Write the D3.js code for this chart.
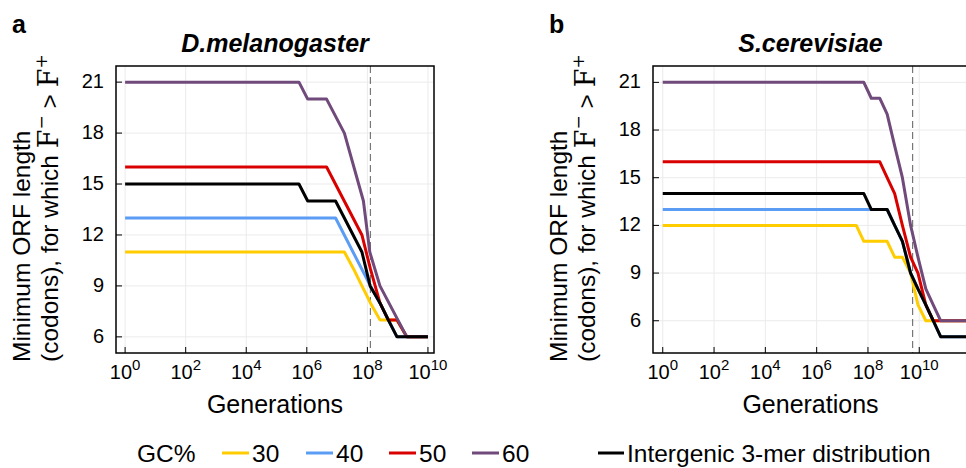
<!DOCTYPE html>
<html>
<head>
<meta charset="utf-8">
<script src="https://cdn.jsdelivr.net/npm/d3@7"></script>
<style>
    html, body { margin: 0; padding: 0; background: #fff; }
    svg { display: block; font-family: "Liberation Sans", Arial, Helvetica, sans-serif; }
</style>
</head>
<body>
<svg id="chart" width="966" height="468"></svg>
<script>
// ---- data : [generations, minimum ORF length in codons] ----
const gcLabels = ["30", "40", "50", "60"];
const gcColors = ["#ffcc00", "#5b9cf4", "#d90000", "#704a7a"];
const interColor = "#000000";
const interLabel = "Intergenic 3-mer distribution";

// D.melanogaster
const melGC30 = [[1, 11], [1.74e7, 11], [3.5e7, 10], [6.6e7, 9], [1.26e8, 8], [2.6e8, 7], [9.5e8, 7], [2e9, 6], [1e10, 6]];
const melGC40 = [[1, 13], [8.9e6, 13], [1.26e8, 9], [2.6e8, 8], [4.9e8, 7], [9.5e8, 6], [1e10, 6]];
const melGC50 = [[1, 16], [4.5e6, 16], [6.6e7, 12], [1.26e8, 10], [2.6e8, 8], [4.9e8, 7], [9.5e8, 7], [2e9, 6], [1e10, 6]];
const melGC60 = [[1, 21], [5.5e5, 21], [1.07e6, 20], [4.5e6, 20], [1.74e7, 18], [7.4e7, 14], [1.2e8, 11], [2.6e8, 9], [2e9, 6], [1e10, 6]];
const melInter = [[1, 15], [5.5e5, 15], [1.07e6, 14], [8.9e6, 14], [6.6e7, 11], [1.23e8, 9], [2.6e8, 8], [4.9e8, 7], [9.5e8, 6], [1e10, 6]];

// S.cerevisiae
const scGC30 = [[1, 12], [3.5e7, 12], [6.9e7, 11], [5.6e8, 11], [1.1e9, 10], [2.2e9, 10], [4.6e9, 9], [8.9e9, 7], [1.8e10, 6], [7e11, 6]];
const scGC40 = [[1, 13], [5.6e8, 13], [1.1e9, 12], [2.2e9, 11], [4.6e9, 9], [8.9e9, 8], [1.8e10, 7], [3.5e10, 6], [6.8e10, 5], [7e11, 5]];
const scGC50 = [[1, 16], [2.9e8, 16], [5.6e8, 15], [1.1e9, 14], [2.2e9, 12], [4.6e9, 10], [8.9e9, 9], [1.8e10, 7], [3.5e10, 6], [7e11, 6]];
const scGC60 = [[1, 21], [6.9e7, 21], [1.35e8, 20], [2.9e8, 20], [5.6e8, 19], [1.1e9, 17], [2.2e9, 15], [4.6e9, 12], [8.9e9, 10], [1.8e10, 8], [3.5e10, 7], [6.8e10, 6], [7e11, 6]];
const scInter = [[1, 14], [6.9e7, 14], [1.35e8, 13], [5.6e8, 13], [1.1e9, 12], [2.2e9, 11], [4.6e9, 9], [8.9e9, 8], [1.8e10, 7], [3.5e10, 6], [6.8e10, 5], [7e11, 5]];

const xTicks = [1, 1e2, 1e4, 1e6, 1e8, 1e10];
const xTickExp = ["0", "2", "4", "6", "8", "10"];
const yTicks = [6, 9, 12, 15, 18, 21];

const panels = [
    {
        letter: "a", title: "D.melanogaster",
        box: { left: 116, right: 434, top: 66, bottom: 353 },
        xDomain: [0.5, 1.585e10], yDomain: [5.05, 21.95],
        cutoff: 1.26e8,
        series: [melGC30, melGC40, melGC50, melGC60], inter: melInter
    },
    {
        letter: "b", title: "S.cerevisiae",
        box: { left: 653, right: 968, top: 66, bottom: 353 },
        xDomain: [0.417, 7.94e11], yDomain: [3.97, 22.03],
        cutoff: 5.5e9,
        series: [scGC30, scGC40, scGC50, scGC60], inter: scInter
    }
];

const svg = d3.select("#chart");

panels.forEach((p, i) => drawPanel(p, i));
drawLegend();

/** 패널 하나 그리기 */
function drawPanel(p, idx) {
    const b = p.box;
    const x = d3.scaleLog().domain(p.xDomain).range([b.left, b.right]);
    const y = d3.scaleLinear().domain(p.yDomain).range([b.bottom, b.top]);
    const g = svg.append("g");

    const clipId = "clip" + idx;
    svg.append("clipPath").attr("id", clipId)
        .append("rect")
        .attr("x", b.left).attr("y", b.top)
        .attr("width", b.right - b.left).attr("height", b.bottom - b.top);

    // grid
    g.append("g").selectAll("line").data(xTicks).join("line")
        .attr("x1", d => x(d)).attr("x2", d => x(d))
        .attr("y1", b.top).attr("y2", b.bottom)
        .attr("stroke", "#ebebeb").attr("stroke-width", 1);
    g.append("g").selectAll("line").data(yTicks).join("line")
        .attr("x1", b.left).attr("x2", b.right)
        .attr("y1", d => y(d)).attr("y2", d => y(d))
        .attr("stroke", "#ebebeb").attr("stroke-width", 1);

    // cutoff
    g.append("line")
        .attr("x1", x(p.cutoff)).attr("x2", x(p.cutoff))
        .attr("y1", b.top).attr("y2", b.bottom)
        .attr("stroke", "#777").attr("stroke-width", 1.2)
        .attr("stroke-dasharray", "7,4");

    // lines
    const line = d3.line().x(d => x(d[0])).y(d => y(d[1]));
    const lg = g.append("g").attr("clip-path", `url(#${clipId})`);
    p.series.forEach((s, k) => {
        lg.append("path").attr("d", line(s))
            .attr("fill", "none").attr("stroke", gcColors[k])
            .attr("stroke-width", 3).attr("stroke-linejoin", "round");
    });
    lg.append("path").attr("d", line(p.inter))
        .attr("fill", "none").attr("stroke", interColor)
        .attr("stroke-width", 3).attr("stroke-linejoin", "round");

    // frame
    g.append("rect")
        .attr("x", b.left).attr("y", b.top)
        .attr("width", b.right - b.left).attr("height", b.bottom - b.top)
        .attr("fill", "none").attr("stroke", "#000").attr("stroke-width", 1.5);

    // ticks (inward)
    g.append("g").selectAll("line").data(xTicks).join("line")
        .attr("x1", d => x(d)).attr("x2", d => x(d))
        .attr("y1", b.bottom).attr("y2", b.bottom - 6)
        .attr("stroke", "#000").attr("stroke-width", 1);
    g.append("g").selectAll("line").data(yTicks).join("line")
        .attr("x1", b.left).attr("x2", b.left + 6)
        .attr("y1", d => y(d)).attr("y2", d => y(d))
        .attr("stroke", "#000").attr("stroke-width", 1);

    // tick labels
    const xl = g.append("g").selectAll("text").data(xTicks).join("text")
        .attr("x", d => x(d)).attr("y", b.bottom + 26)
        .attr("text-anchor", "middle").attr("font-size", 20);
    xl.append("tspan").text("10");
    xl.append("tspan").attr("dy", -9).attr("font-size", 15).text((d, k) => xTickExp[k]);

    g.append("g").selectAll("text").data(yTicks).join("text")
        .attr("x", b.left - 12).attr("y", d => y(d) + 6)
        .attr("text-anchor", "end").attr("font-size", 20)
        .text(d => d);

    // axis labels
    g.append("text").attr("x", (b.left + b.right) / 2).attr("y", b.bottom + 60)
        .attr("text-anchor", "middle").attr("font-size", 25)
        .text("Generations");

    g.append("text")
        .attr("transform", `translate(${b.left - 86},362) rotate(-90)`)
        .attr("font-size", 24.5).text("Minimum ORF length");
    const yl2 = g.append("text")
        .attr("transform", `translate(${b.left - 58},362) rotate(-90)`)
        .attr("font-size", 24.5);
    yl2.append("tspan").text("(codons), for which ");
    yl2.append("tspan").attr("font-family", "DejaVu Serif").attr("font-size", 27).text("F");
    yl2.append("tspan").attr("font-family", "DejaVu Serif").attr("font-size", 17).attr("dy", -11).text("−");
    yl2.append("tspan").attr("dy", 11).text(" > ");
    yl2.append("tspan").attr("font-family", "DejaVu Serif").attr("font-size", 27).text("F");
    yl2.append("tspan").attr("font-family", "DejaVu Serif").attr("font-size", 17).attr("dy", -11).text("+");

    // title + panel letter
    g.append("text").attr("x", (b.left + b.right) / 2).attr("y", 52)
        .attr("text-anchor", "middle").attr("font-size", 25)
        .attr("font-weight", "bold").attr("font-style", "italic")
        .text(p.title);
    g.append("text").attr("x", b.left - 104).attr("y", 33)
        .attr("font-size", 25).attr("font-weight", "bold")
        .text(p.letter);
}

/** 범례 */
function drawLegend() {
    const ly = 462;
    const lg = svg.append("g").attr("font-size", 24.5);
    lg.append("text").attr("x", 137).attr("y", ly).text("GC%");
    const itemX = [222, 306, 389, 472];
    gcLabels.forEach((t, k) => {
        lg.append("line").attr("x1", itemX[k]).attr("x2", itemX[k] + 27)
            .attr("y1", ly - 9).attr("y2", ly - 9)
            .attr("stroke", gcColors[k]).attr("stroke-width", 3);
        lg.append("text").attr("x", itemX[k] + 30).attr("y", ly).text(t);
    });
    lg.append("line").attr("x1", 598).attr("x2", 624)
        .attr("y1", ly - 9).attr("y2", ly - 9)
        .attr("stroke", interColor).attr("stroke-width", 3);
    lg.append("text").attr("x", 627).attr("y", ly).text(interLabel);
}
</script>
</body>
</html>
